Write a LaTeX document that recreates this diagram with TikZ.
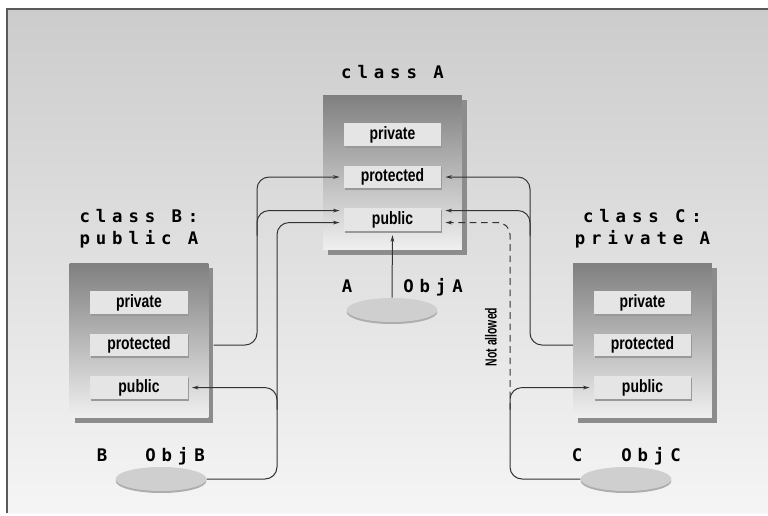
\documentclass[tikz,border=0pt]{standalone}
\usepackage{fontspec}
\newfontfamily\codefont[LetterSpace=34]{DejaVu Sans Mono}
\newfontfamily\lblfont[FakeStretch=0.78]{Liberation Sans}
\newfontfamily\notefont[FakeStretch=0.65]{Liberation Sans}
\usetikzlibrary{arrows.meta, positioning, shapes.geometric, shadows, calc}

\tikzset{
  classbox/.style={shade, top color=black!50, bottom color=black!6,
    minimum width=104pt, minimum height=116pt, inner sep=0pt,
    drop shadow={opacity=1, fill=black!45, shadow xshift=3.75pt, shadow yshift=-3.75pt}},
  member/.style={fill=black!10, minimum width=73pt, minimum height=17pt, inner sep=0pt,
    font=\lblfont\bfseries\fontsize{13.4}{15}\selectfont,
    drop shadow={opacity=1, fill=black!40, shadow xshift=0.8pt, shadow yshift=-1.3pt}},
  classname/.style={font=\codefont\bfseries\fontsize{13}{16.5}\selectfont, align=center, inner sep=0pt},
  objname/.style={font=\codefont\bfseries\fontsize{13}{15}\selectfont, inner sep=0pt, anchor=base},
  object/.style={ellipse, fill=black!19, minimum width=68pt, minimum height=18pt, inner sep=0pt,
    drop shadow={opacity=1, fill=black!32, shadow xshift=0pt, shadow yshift=-1.5pt}},
  link/.style={draw=black!80, line width=0.75pt, rounded corners=9pt, ->, shorten >=3pt},
}

\begin{document}
\begin{tikzpicture}[x=0.75pt, y=-0.75pt, >={Stealth[length=5pt,width=2.8pt]}]
  \useasboundingbox (0,0) rectangle (768,515);
  % backdrop
  \shade[top color=black!20, bottom color=black!4] (7,9) rectangle (768,513);
  \draw[black!65, line width=1pt] (7,513) -- (7,9) -- (768,9);

  % classes
  \node[classbox] (A) at (392.5,172.5) {};
  \node[classbox] (B) at (139,340.5) {};
  \node[classbox] (C) at (642.5,340.5) {};
  \node[classname, above=12pt of A] (tA) {class A};
  \node[classname, above=11pt of B] (tB) {class B:\\public A};
  \node[classname, above=11pt of C] (tC) {class C:\\private A};

  % members
  \node[member, below=21pt of A.north] (Apriv) {private};
  \node[member, below=14.5pt of Apriv] (Aprot) {protected};
  \node[member, below=14.5pt of Aprot] (Apub) {public};
  \node[member, below=21pt of B.north] (Bpriv) {private};
  \node[member, below=14.5pt of Bpriv] (Bprot) {protected};
  \node[member, below=14.5pt of Bprot] (Bpub) {public};
  \node[member, below=21pt of C.north] (Cpriv) {private};
  \node[member, below=14.5pt of Cpriv] (Cprot) {protected};
  \node[member, below=14.5pt of Cprot] (Cpub) {public};

  % objects
  \node[object] (oA) at (392,310) {};
  \node[object] (oB) at (161,479) {};
  \node[object] (oC) at (626,479) {};
  \node[objname] (nA) at (347,292) {A};
  \node[objname] (nObjA) at (433,292) {ObjA};
  \node[objname] (nB) at (102,461) {B};
  \node[objname] (nObjB) at (175,461) {ObjB};
  \node[objname] (nC) at (577,461) {C};
  \node[objname] (nObjC) at (651,461) {ObjC};

  % arrow ends at A's public part
  \coordinate (Apub1) at ([yshift=6.75pt]Apub.west);
  \coordinate (Apub2) at ([yshift=-2.25pt]Apub.west);
  \coordinate (Apub3) at ([yshift=6.75pt]Apub.east);
  \coordinate (Apub4) at ([yshift=-2.25pt]Apub.east);
  % risers
  \coordinate (rB1) at (257,0);
  \coordinate (rB2) at (277,0);
  \coordinate (rC1) at (530,0);
  \coordinate (rC2) at (510,0);

  % B side
  \draw[link] ($(B.east |- Bprot)+(5,0)$) -| (rB1 |- Aprot) -- (Aprot.west);
  \draw[link] ($(rB1 |- Apub1)+(0,25)$) |- (Apub1);
  \draw[link] (oB.east) -| (rB2 |- Apub2) -- (Apub2);
  \draw[link] ($(rB2 |- Bpub)+(0,22)$) |- (Bpub.east);
  % A object
  \draw[link] (oA.north) -- (Apub.south);
  % C side
  \draw[link] (C.west |- Cprot) -| (rC1 |- Aprot) -- (Aprot.east);
  \draw[link] ($(rC1 |- Apub3)+(0,25)$) |- (Apub3);
  \draw[link] (oC.west) -| (rC2 |- Cpub) -- (Cpub.west);
  \draw[link, dash pattern=on 5pt off 3.5pt] ($(rC2 |- Cpub)+(0,22)$) |- (Apub4);
  \node[font=\notefont\bfseries\fontsize{12}{14}\selectfont, rotate=90, inner sep=0pt] (na) at (491,337) {Not allowed};
\end{tikzpicture}
\end{document}
